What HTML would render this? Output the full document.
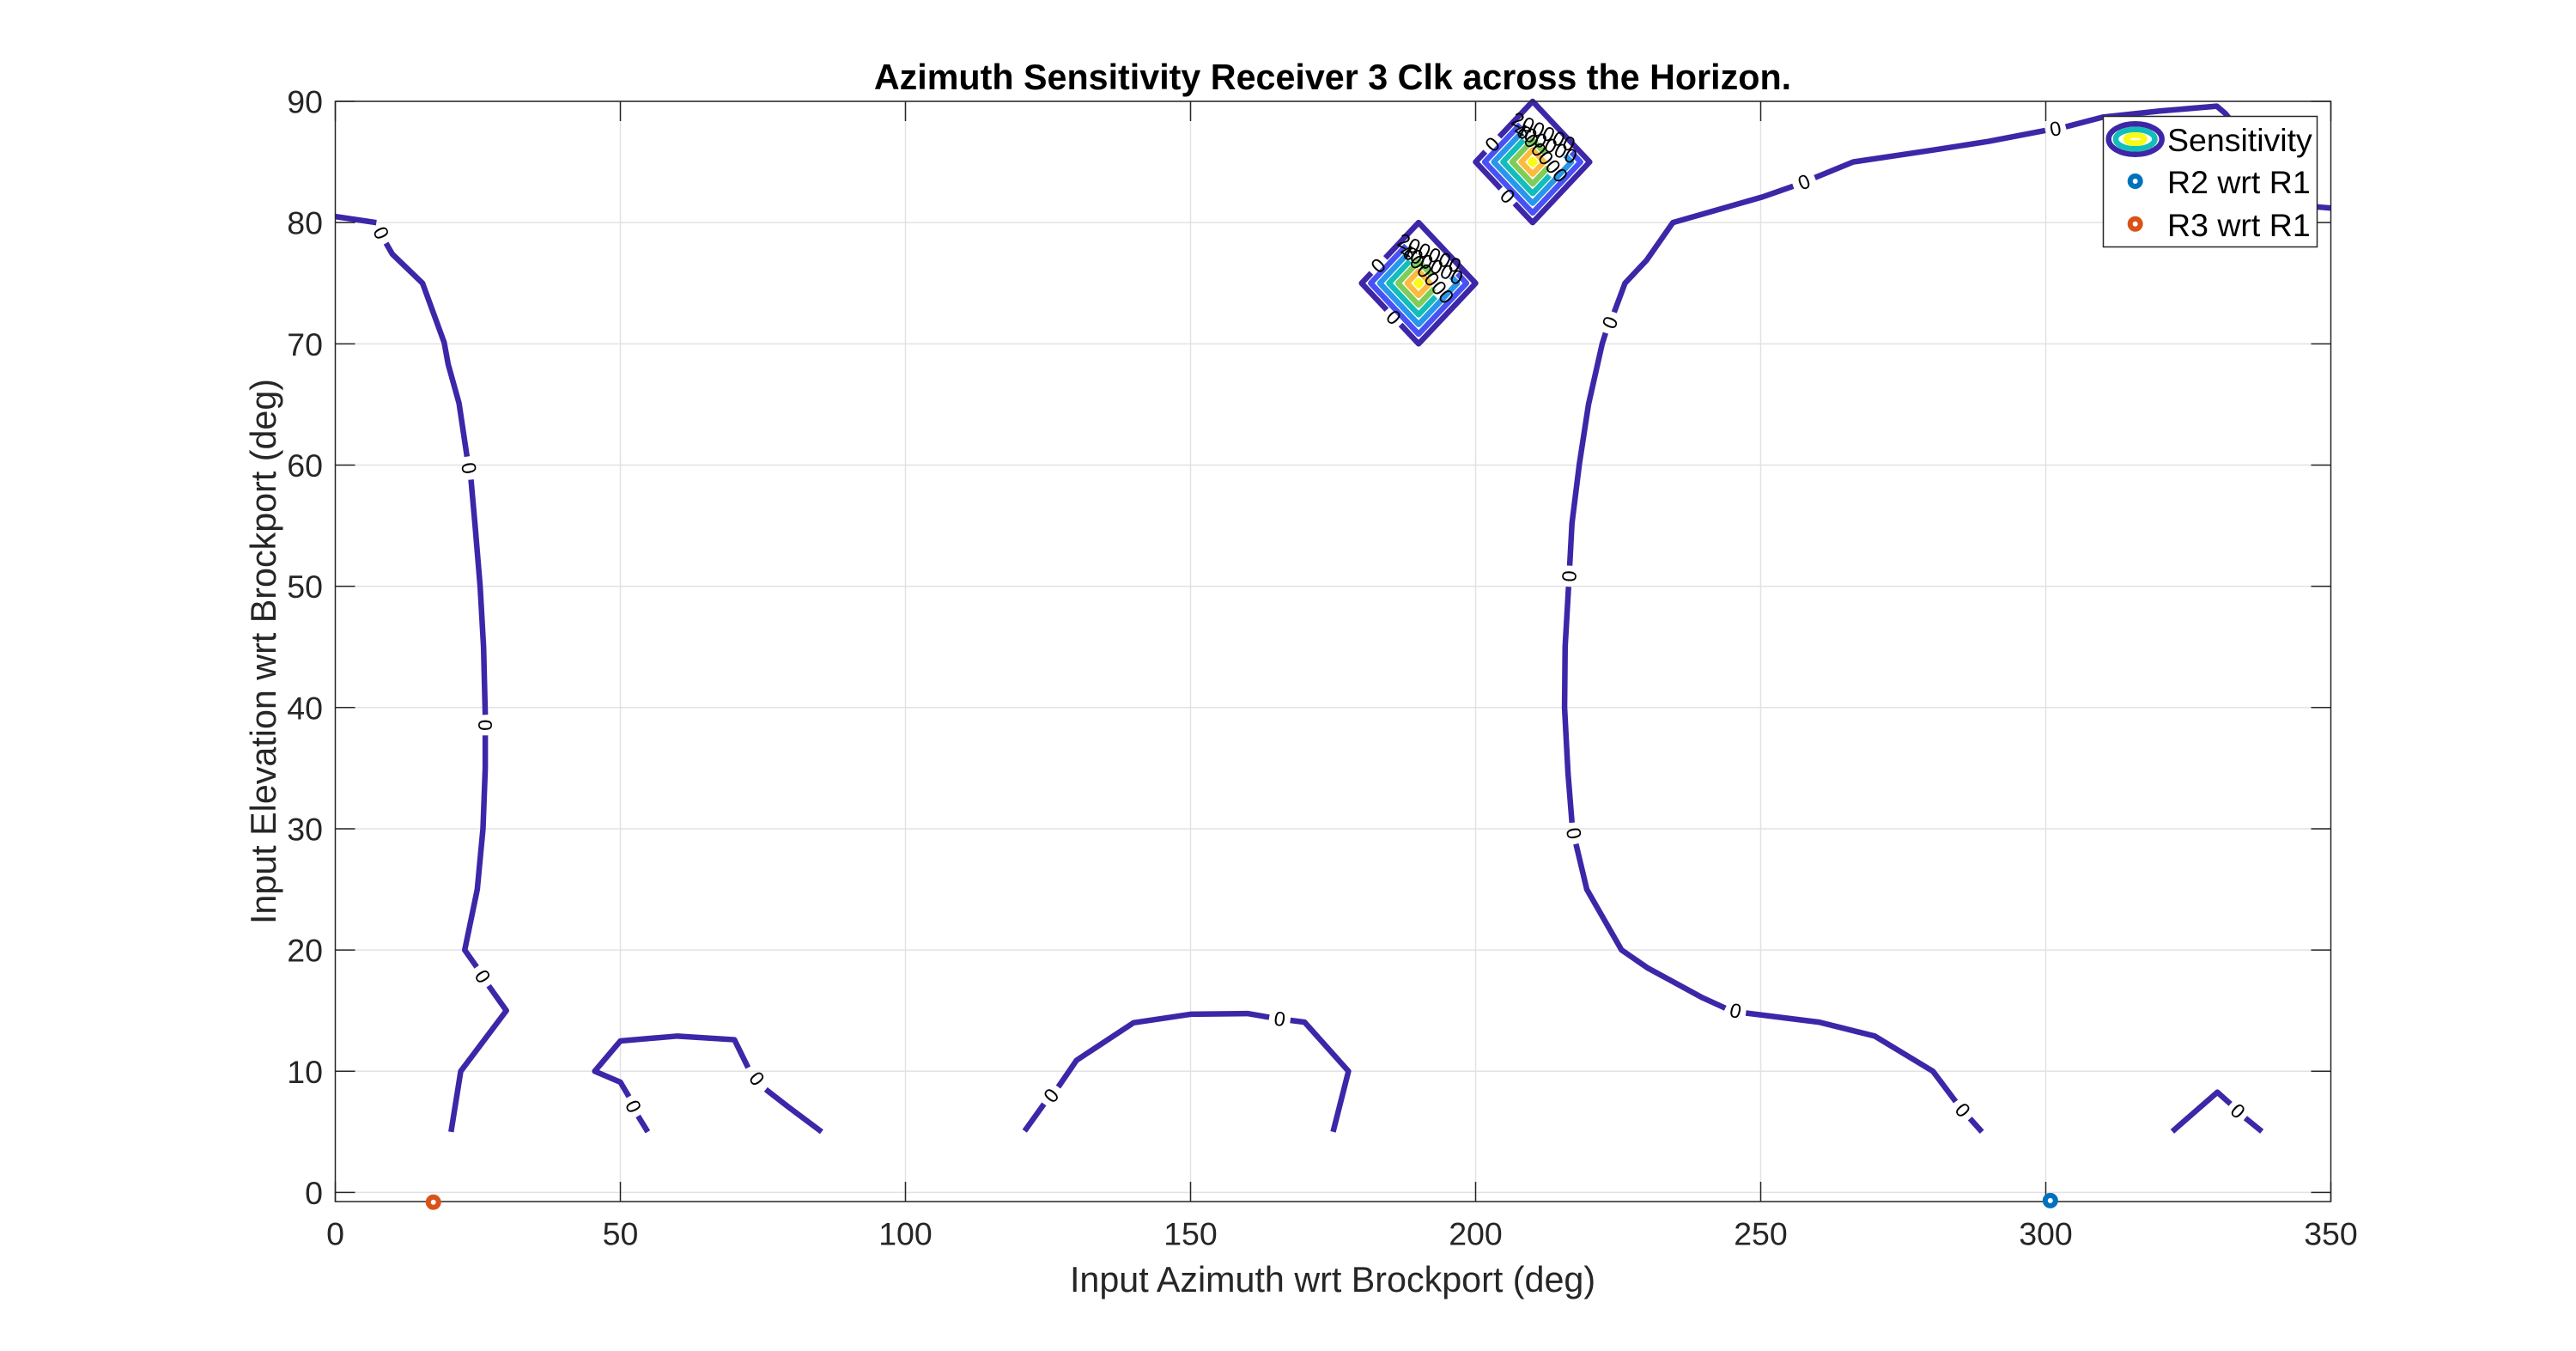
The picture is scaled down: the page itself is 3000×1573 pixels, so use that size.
<!DOCTYPE html>
<html lang="en">
<head>
<meta charset="utf-8">
<title>Azimuth Sensitivity Receiver 3 Clk across the Horizon.</title>
<style>
html,body{margin:0;padding:0;background:#fff;}
svg{display:block;font-family:"Liberation Sans",Arial,sans-serif;}
</style>
</head>
<body>
<svg id="chart" xmlns="http://www.w3.org/2000/svg" width="3000" height="1573" viewBox="0 0 3000 1573">
  <rect x="0" y="0" width="3000" height="1573" fill="#ffffff"/>
  <g id="grid"></g>
  <g id="contours"></g>
  <g id="axes"></g>
  <text x="1552" y="104" text-anchor="middle" font-size="41.25" font-weight="bold" fill="#000">Azimuth Sensitivity Receiver 3 Clk across the Horizon.</text>
  <text x="1552" y="1504" text-anchor="middle" font-size="41.25" fill="#262626">Input Azimuth wrt Brockport (deg)</text>
  <text transform="translate(321,758.5) rotate(-90)" text-anchor="middle" font-size="41.25" fill="#262626">Input Elevation wrt Brockport (deg)</text>
  <g id="markers"></g>
  <g>
    <rect x="2449.5" y="135.5" width="249" height="152" fill="#ffffff" stroke="#262626" stroke-width="1.5"/>
    <ellipse cx="2486.7" cy="162" rx="31" ry="17.7" fill="none" stroke="#3E26A8" stroke-width="6.5"/>
    <ellipse cx="2486.7" cy="162" rx="22.8" ry="11.3" fill="none" stroke="#12BEB9" stroke-width="6.5"/>
    <ellipse cx="2486.7" cy="162" rx="10.7" ry="4.8" fill="none" stroke="#F9FB15" stroke-width="6.5"/>
    <text x="2524" y="176" font-size="37.5" fill="#000">Sensitivity</text>
    <circle cx="2486.7" cy="211" r="6" fill="#fff" stroke="#0072BD" stroke-width="6"/>
    <text x="2524" y="225" font-size="37.5" fill="#000">R2 wrt R1</text>
    <circle cx="2486.7" cy="260.7" r="6" fill="#fff" stroke="#D95319" stroke-width="6"/>
    <text x="2524" y="275" font-size="37.5" fill="#000">R3 wrt R1</text>
  </g>
</svg>
<script>
// ---- tick data ----
const xTicks = [0, 50, 100, 150, 200, 250, 300, 350];
const yTicks = [0, 10, 20, 30, 40, 50, 60, 70, 80, 90];

// ---- zero-level contours: null marks a break where a label sits ----
const contourLevel = '0';
const leftAz = [0, 7.2, null, 8.9, 10, 15.3, 19.1, 19.8, 21.7, 23.1, null, 23.8, 24.5, 25.4, 26, 26.3, null, 26.3, 26.3, 25.9, 24.9, 22.7, 24.8, null, 26.9, 30, 22, 20.3];
const leftEl = [80.5, 80, null, 78.3, 77.4, 75, 70.1, 68.3, 65.1, 60.7, null, 58.8, 55.1, 50, 45, 39.4, null, 37.7, 35, 30, 25, 20, 18.6, null, 17.05, 15, 10, 5];
const bumpAAz = [54.8, 53.1, null, 51.5, 50, 45.5, 50, 60, 70, 72.4, null, 75.5, 79.6, 85.3];
const bumpAEl = [5, 6.3, null, 7.9, 9.1, 10, 12.5, 12.9, 12.6, 10.3, null, 8.5, 7, 5];
const bumpBAz = [120.9, 124.3, null, 126.8, 130, 140, 150, 160, 163.8, null, 167.5, 170, 177.7, 175];
const bumpBEl = [5.07, 7.3, null, 8.7, 10.9, 14, 14.7, 14.76, 14.45, null, 14.2, 14.05, 10, 5];
const rightAz = [288.8, 286.7, null, 284.2, 280.2, 270, 260.2, 247.4, null, 243.8, 239.8, 230.1, 225.6, 219.5, 217.6, null, 216.9, 216.2, 215.6, 215.7, 216.3, null, 216.5, 216.9, 218.2, 219.8, 222.2, 222.8, null, 224.3, 226.2, 230, 234.6, 250.2, 255.7, null, 259.5, 266.2, 280.5, 290, 299.9, null, 303.5, 310, 320, 330, 331.5, 340, 347.4, 350];
const rightEl = [5, 6.1, null, 7.5, 10, 12.9, 14.05, 14.8, null, 15.2, 16.06, 18.54, 20, 25, 28.75, null, 30.5, 34.6, 40, 45, 49.96, null, 51.7, 55.2, 60.1, 65, 70, 70.9, null, 72.6, 75, 76.9, 80, 82.1, 83, null, 83.7, 85, 86, 86.7, 87.6, null, 87.9, 88.7, 89.2, 89.6, 89, 84, 81.3, 81.2];
const bumpCAz = [322.2, 330.1, 332.4, null, 335, 337.9];
const bumpCEl = [5.03, 8.27, 7.3, null, 6.14, 5.03];

// ---- sensitivity peaks ----
const peakAz = [210, 190];
const peakEl = [85, 75];
const peakValue = [1250000, 1250000];
const peakHalfAz = [10, 10];
const peakHalfEl = [5, 5];
const contourLevels = [0, 200000, 400000, 600000, 800000, 1000000, 1200000];
const levelColors = ['#3E26A8', '#4852F4', '#2796EB', '#12BEB9', '#80CC59', '#FCBB3E', '#F9FB15'];
// Visible stretches of each level, as clockwise perimeter fractions from the top corner
const levelArcs = [
  [[0.854, 1.579], [0.64, 0.7925]],
  [[0.2025, 0.935]],
  [[0.21, 0.93]],
  [[0.3575, 0.925]],
  [[0.31, 1.1625]],
  [[0, 1]],
  [[0, 1]]
];
const zeroLabelPerimeter = [0.6095, 0.823];
const peakLabelText = ['200000', '400000', '600000'];
const peakLabelAz = [1.9, 2.3, 1.7];
const peakLabelEl = [2.5, 1.56, 0.68];
const peakLabelAngle = [25, 27, 50];

// ---- receiver positions ----
const r2Az = [300.8];
const r2El = [-0.67];
const r3Az = [17.2];
const r3El = [-0.8];

// ---- axis functions ----
const plotLeft = 390.5, plotRight = 2714.5, plotTop = 118, plotBottom = 1399;
const xMin = 0, xMax = 350, yMin = -0.75, yMax = 90;
function sx(v) { return plotLeft + (v - xMin) / (xMax - xMin) * (plotRight - plotLeft); }
function sy(v) { return plotBottom - (v - yMin) / (yMax - yMin) * (plotBottom - plotTop); }

const NS = 'http://www.w3.org/2000/svg';
const gridG = document.getElementById('grid');
const axesG = document.getElementById('axes');
const contourG = document.getElementById('contours');
const markerG = document.getElementById('markers');
function makeLine(x1, y1, x2, y2, color) {
  const l = document.createElementNS(NS, 'line');
  l.setAttribute('x1', x1);
  l.setAttribute('y1', y1);
  l.setAttribute('x2', x2);
  l.setAttribute('y2', y2);
  l.setAttribute('stroke', color);
  l.setAttribute('stroke-width', 1.5);
  return l;
}

// Grid and ticks
xTicks.forEach(function (t) {
  const x = sx(t);
  if (t > xMin && t < xMax) {
    const g = makeLine(x, plotTop, x, plotBottom, '#e2e2e2');
    
    
    gridG.appendChild(g);
  }
  const a = makeLine(x, plotBottom, x, plotBottom - 23, '#262626');
  
  
  axesG.appendChild(a);
  const b = makeLine(x, plotTop, x, plotTop + 23, '#262626');
  
  
  axesG.appendChild(b);
  const txt = document.createElementNS(NS, 'text');
  
  
  txt.setAttribute('x', x);
  txt.setAttribute('y', 1449.5);
  txt.setAttribute('text-anchor', 'middle');
  txt.setAttribute('font-size', 37.5);
  txt.setAttribute('fill', '#262626');
  txt.textContent = t;
  axesG.appendChild(txt);
});
yTicks.forEach(function (t) {
  const y = sy(t);
  const g = makeLine(plotLeft, y, plotRight, y, '#e2e2e2');
  
  
  gridG.appendChild(g);
  const a = makeLine(plotLeft, y, plotLeft + 23, y, '#262626');
  
  
  axesG.appendChild(a);
  const b = makeLine(plotRight, y, plotRight - 23, y, '#262626');
  
  
  axesG.appendChild(b);
  const txt = document.createElementNS(NS, 'text');
  
  
  txt.setAttribute('x', 376);
  txt.setAttribute('y', y + 13.5);
  txt.setAttribute('text-anchor', 'end');
  txt.setAttribute('font-size', 37.5);
  txt.setAttribute('fill', '#262626');
  txt.textContent = t;
  axesG.appendChild(txt);
});
const frame = document.createElementNS(NS, 'rect');


frame.setAttribute('x', plotLeft);
frame.setAttribute('y', plotTop);
frame.setAttribute('width', plotRight - plotLeft);
frame.setAttribute('height', plotBottom - plotTop);
frame.setAttribute('fill', 'none');
frame.setAttribute('stroke', '#262626');
frame.setAttribute('stroke-width', 1.5);
axesG.appendChild(frame);

function addContourLabel(text, px, py, angle) {
  const t = document.createElementNS(NS, 'text');
  
  
  t.setAttribute('transform', 'translate(' + px + ',' + py + ') rotate(' + angle + ')');
  t.setAttribute('text-anchor', 'middle');
  t.setAttribute('dy', '0.35em');
  t.setAttribute('font-size', 23.5);
  t.setAttribute('fill', '#000');
  t.textContent = text;
  contourG.appendChild(t);
}

// Zero-level contour lines with labels sitting in their breaks
function drawContour(azs, els, name) {
  let d = '';
  let pen = false;
  azs.forEach(function (a, i) {
    if (a === null) { pen = false; return; }
    d += (pen ? 'L' : 'M') + sx(a).toFixed(2) + ' ' + sy(els[i]).toFixed(2);
    pen = true;
  });
  const p = document.createElementNS(NS, 'path');
  
  
  p.setAttribute('d', d);
  p.setAttribute('fill', 'none');
  p.setAttribute('stroke', levelColors[0]);
  p.setAttribute('stroke-width', 6.5);
  p.setAttribute('stroke-linejoin', 'round');
  contourG.appendChild(p);
  azs.forEach(function (a, i) {
    if (a !== null) return;
    const x1 = sx(azs[i - 1]), y1 = sy(els[i - 1]), x2 = sx(azs[i + 1]), y2 = sy(els[i + 1]);
    let ang = Math.atan2(y2 - y1, x2 - x1) * 180 / Math.PI;
    if (ang > 90) ang -= 180;
    if (ang < -90) ang += 180;
    addContourLabel(contourLevel, (x1 + x2) / 2, (y1 + y2) / 2, ang);
  });
}
drawContour(leftAz, leftEl, 'contour-left');
drawContour(bumpAAz, bumpAEl, 'contour-bump-50');
drawContour(bumpBAz, bumpBEl, 'contour-bump-150');
drawContour(rightAz, rightEl, 'contour-right');
drawContour(bumpCAz, bumpCEl, 'contour-bump-330');

// Peak diamonds: contour size follows each level against the peak value
function perimeterPoint(cx, cy, hx, hy, p) {
  const q = ((p % 1) + 1) % 1 * 4;
  const side = Math.floor(q), f = q - side;
  const corners = [[cx, cy - hy], [cx + hx, cy], [cx, cy + hy], [cx - hx, cy], [cx, cy - hy]];
  const a = corners[side], b = corners[side + 1];
  return [a[0] + (b[0] - a[0]) * f, a[1] + (b[1] - a[1]) * f];
}
peakAz.forEach(function (az, k) {
  const cx = sx(az), cy = sy(peakEl[k]);
  const hx0 = sx(az + peakHalfAz[k]) - cx;
  const hy0 = cy - sy(peakEl[k] + peakHalfEl[k]);
  contourLevels.forEach(function (lev, j) {
    const frac = 1 - lev / peakValue[k];
    const hx = hx0 * frac, hy = hy0 * frac;
    levelArcs[j].forEach(function (arc) {
      const full = arc[1] - arc[0] >= 1;
      const pts = [perimeterPoint(cx, cy, hx, hy, arc[0])];
      for (let c = Math.floor(arc[0] * 4) + 1; c / 4 < arc[1]; c++) {
        pts.push(perimeterPoint(cx, cy, hx, hy, c / 4));
      }
      if (!full) pts.push(perimeterPoint(cx, cy, hx, hy, arc[1]));
      const path = document.createElementNS(NS, 'path');
      
      
      path.setAttribute('d', 'M' + pts.map(function (q) { return q[0].toFixed(2) + ' ' + q[1].toFixed(2); }).join('L') + (full ? 'Z' : ''));
      path.setAttribute('fill', 'none');
      path.setAttribute('stroke', levelColors[j]);
      path.setAttribute('stroke-width', 6.5);
      path.setAttribute('stroke-linejoin', 'round');
      contourG.appendChild(path);
    });
  });
  zeroLabelPerimeter.forEach(function (p) {
    const pt = perimeterPoint(cx, cy, hx0, hy0, p);
    addContourLabel(contourLevel, pt[0], pt[1], p < 0.75 ? 45 : -45);
  });
  peakLabelText.forEach(function (s, i) {
    addContourLabel(s, sx(az + peakLabelAz[i]), sy(peakEl[k] + peakLabelEl[i]), peakLabelAngle[i]);
  });
});

// Receiver markers
function drawMarkers(azs, els, color, name) {
  azs.forEach(function (a, i) {
    const c = document.createElementNS(NS, 'circle');
    
    
    c.setAttribute('cx', sx(a));
    c.setAttribute('cy', sy(els[i]));
    c.setAttribute('r', 6);
    c.setAttribute('fill', '#fff');
    c.setAttribute('stroke', color);
    c.setAttribute('stroke-width', 6);
    markerG.appendChild(c);
  });
}
drawMarkers(r2Az, r2El, '#0072BD', 'marker-r2-wrt-r1');
drawMarkers(r3Az, r3El, '#D95319', 'marker-r3-wrt-r1');
</script>
</body>
</html>
